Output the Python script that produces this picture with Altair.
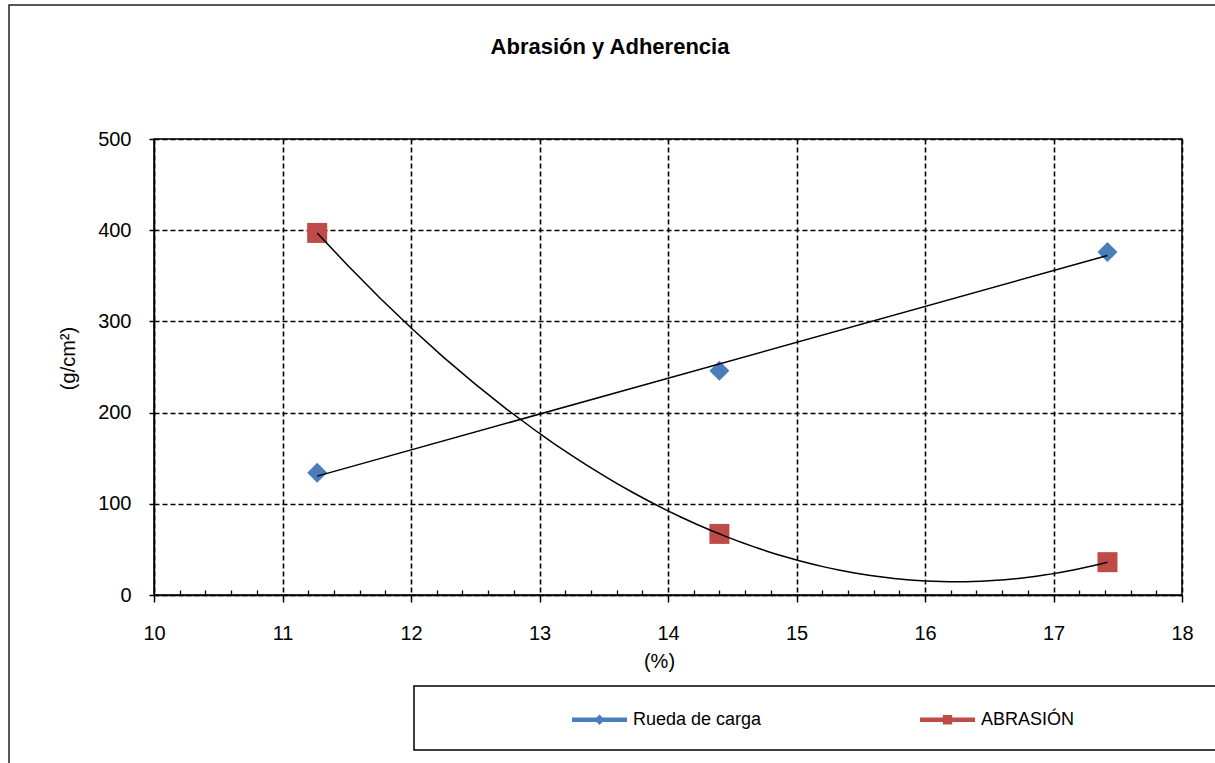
import altair as alt
import pandas as pd

# ---- data ----
x_pct = [11.27, 14.40, 17.42]
rueda_de_carga = [134, 246, 376]
abrasion = [397, 67, 36]
series_names = ["Rueda de carga", "ABRASIÓN"]
series_colors = ["#4A7EBB", "#BE4B48"]
x_ticks = [10, 11, 12, 13, 14, 15, 16, 17, 18]
x_minor_ticks = [10.2, 10.4, 10.6, 10.8, 11.2, 11.4, 11.6, 11.8, 12.2, 12.4, 12.6, 12.8,
                 13.2, 13.4, 13.6, 13.8, 14.2, 14.4, 14.6, 14.8, 15.2, 15.4, 15.6, 15.8,
                 16.2, 16.4, 16.6, 16.8, 17.2, 17.4, 17.6, 17.8]
y_ticks = [0, 100, 200, 300, 400, 500]

FONT = "Liberation Sans"

df = pd.DataFrame({
    "x": x_pct + x_pct,
    "y": rueda_de_carga + abrasion,
    "serie": [series_names[0]] * len(x_pct) + [series_names[1]] * len(x_pct),
})

xscale = alt.Scale(domain=[10, 18], nice=False, zero=False)
yscale = alt.Scale(domain=[0, 500], nice=False, zero=True)

points = alt.Chart(df).mark_point(filled=True, opacity=1, size=400, strokeWidth=0).encode(
    x=alt.X("x:Q", scale=xscale, axis=alt.Axis(
        orient="bottom", values=x_ticks, format="d", grid=True, gridDash=[5, 3],
        gridColor="black", gridWidth=1.6, gridOpacity=1, ticks=True, tickSize=7,
        tickColor="black", tickWidth=1.5, domain=True, domainColor="black", domainWidth=1.5,
        labelFont=FONT, labelFontSize=20, labelColor="black", labelPadding=21,
        labelFlush=False, title="(%)", titleFont=FONT, titleFontSize=20,
        titleFontWeight="normal", titleColor="black", titleX=505, titleY=66,
        titleBaseline="middle", titleAlign="center")),
    y=alt.Y("y:Q", scale=yscale, axis=alt.Axis(
        orient="left", values=y_ticks, format="d", grid=True, gridDash=[5, 3],
        gridColor="black", gridWidth=1.6, gridOpacity=1, ticks=True, tickSize=5,
        tickColor="black", tickWidth=1.5, domain=True, domainColor="black", domainWidth=1.5,
        labelFont=FONT, labelFontSize=20, labelColor="black", labelPadding=18,
        labelFlush=False, title="(g/cm²)", titleFont=FONT, titleFontSize=20,
        titleFontWeight="normal", titleColor="black", titleAngle=270, titleX=-86,
        titleY=219, titleBaseline="middle", titleAlign="center")),
    color=alt.Color("serie:N", scale=alt.Scale(domain=series_names, range=series_colors), legend=None),
    shape=alt.Shape("serie:N", scale=alt.Scale(domain=series_names, range=["diamond", "square"]), legend=None),
)

trend_rueda = alt.Chart(df).transform_filter(
    alt.datum.serie == series_names[0]
).transform_regression("x", "y", method="linear").mark_line(
    color="black", strokeWidth=1.5
).encode(
    x=alt.X("x:Q", scale=xscale, axis=None),
    y=alt.Y("y:Q", scale=yscale, axis=None),
)

trend_abr = alt.Chart(df).transform_filter(
    alt.datum.serie == series_names[1]
).transform_regression("x", "y", method="poly", order=2).mark_line(
    color="black", strokeWidth=1.5
).encode(
    x=alt.X("x:Q", scale=xscale, axis=None),
    y=alt.Y("y:Q", scale=yscale, axis=None),
)

minor = alt.Chart(df).mark_point(opacity=0).encode(
    x=alt.X("x:Q", scale=xscale, axis=alt.Axis(
        orient="bottom", values=x_minor_ticks, offset=-5, tickSize=5, ticks=True,
        tickColor="black", tickWidth=1.3, domain=False, labels=False, grid=False,
        title=None)),
    y=alt.Y("y:Q", scale=yscale, axis=None),
)

# legend symbols: line with marker
path_diamond = ("M-1,-0.08 L1,-0.08 L1,0.08 L-1,0.08 Z "
                "M0,-0.19 L0.19,0 L0,0.19 L-0.19,0 Z")
path_square = ("M-1,-0.08 L1,-0.08 L1,0.08 L-1,0.08 Z "
               "M-0.17,-0.17 L0.17,-0.17 L0.17,0.17 L-0.17,0.17 Z")

leg = alt.Legend(orient="none", legendX=418, legendY=553, direction="horizontal",
                 title=None, labelFont=FONT, labelFontSize=18, labelColor="black",
                 symbolSize=3025, symbolStrokeWidth=0, labelOffset=6,
                 columnPadding=158, padding=0, labelLimit=400)

legend_layer = alt.Chart(df).transform_filter(alt.datum.x < 0).mark_point(
    filled=True, opacity=1, strokeWidth=0
).encode(
    x=alt.X("x:Q", scale=xscale, axis=None),
    y=alt.Y("y:Q", scale=yscale, axis=None),
    color=alt.Color("serie:N", scale=alt.Scale(domain=series_names, range=series_colors), legend=leg),
    shape=alt.Shape("serie:N", scale=alt.Scale(domain=series_names, range=[path_diamond, path_square]), legend=leg),
)

frame_df = pd.DataFrame({"k": [0]})
legend_box = alt.Chart(frame_df).mark_rect(fillOpacity=0, stroke="black", strokeWidth=1.5).encode(
    x=alt.value(260), x2=alt.value(1070), y=alt.value(547), y2=alt.value(611)
)
outer_box = alt.Chart(frame_df).mark_rect(fillOpacity=0, stroke="#222222", strokeWidth=1.5).encode(
    x=alt.value(-145), x2=alt.value(1100), y=alt.value(-134), y2=alt.value(700)
)

chart = alt.layer(
    outer_box, legend_box, points, trend_rueda, trend_abr, minor, legend_layer
).resolve_scale(
    color="independent", shape="independent"
).resolve_axis(
    x="independent", y="independent"
).properties(
    width=1028, height=456,
    autosize="none",
    padding={"left": 154, "top": 139, "right": 33, "bottom": 168},
    background="white",
    title=alt.TitleParams("Abrasión y Adherencia", font=FONT, fontSize=22,
                          fontWeight="bold", color="black", anchor="middle",
                          frame="group", dx=-58, offset=-72, baseline="alphabetic"),
).configure_view(stroke="black", strokeWidth=1.5)

chart.save("out.html", embed_options={"renderer": "svg", "actions": False})
